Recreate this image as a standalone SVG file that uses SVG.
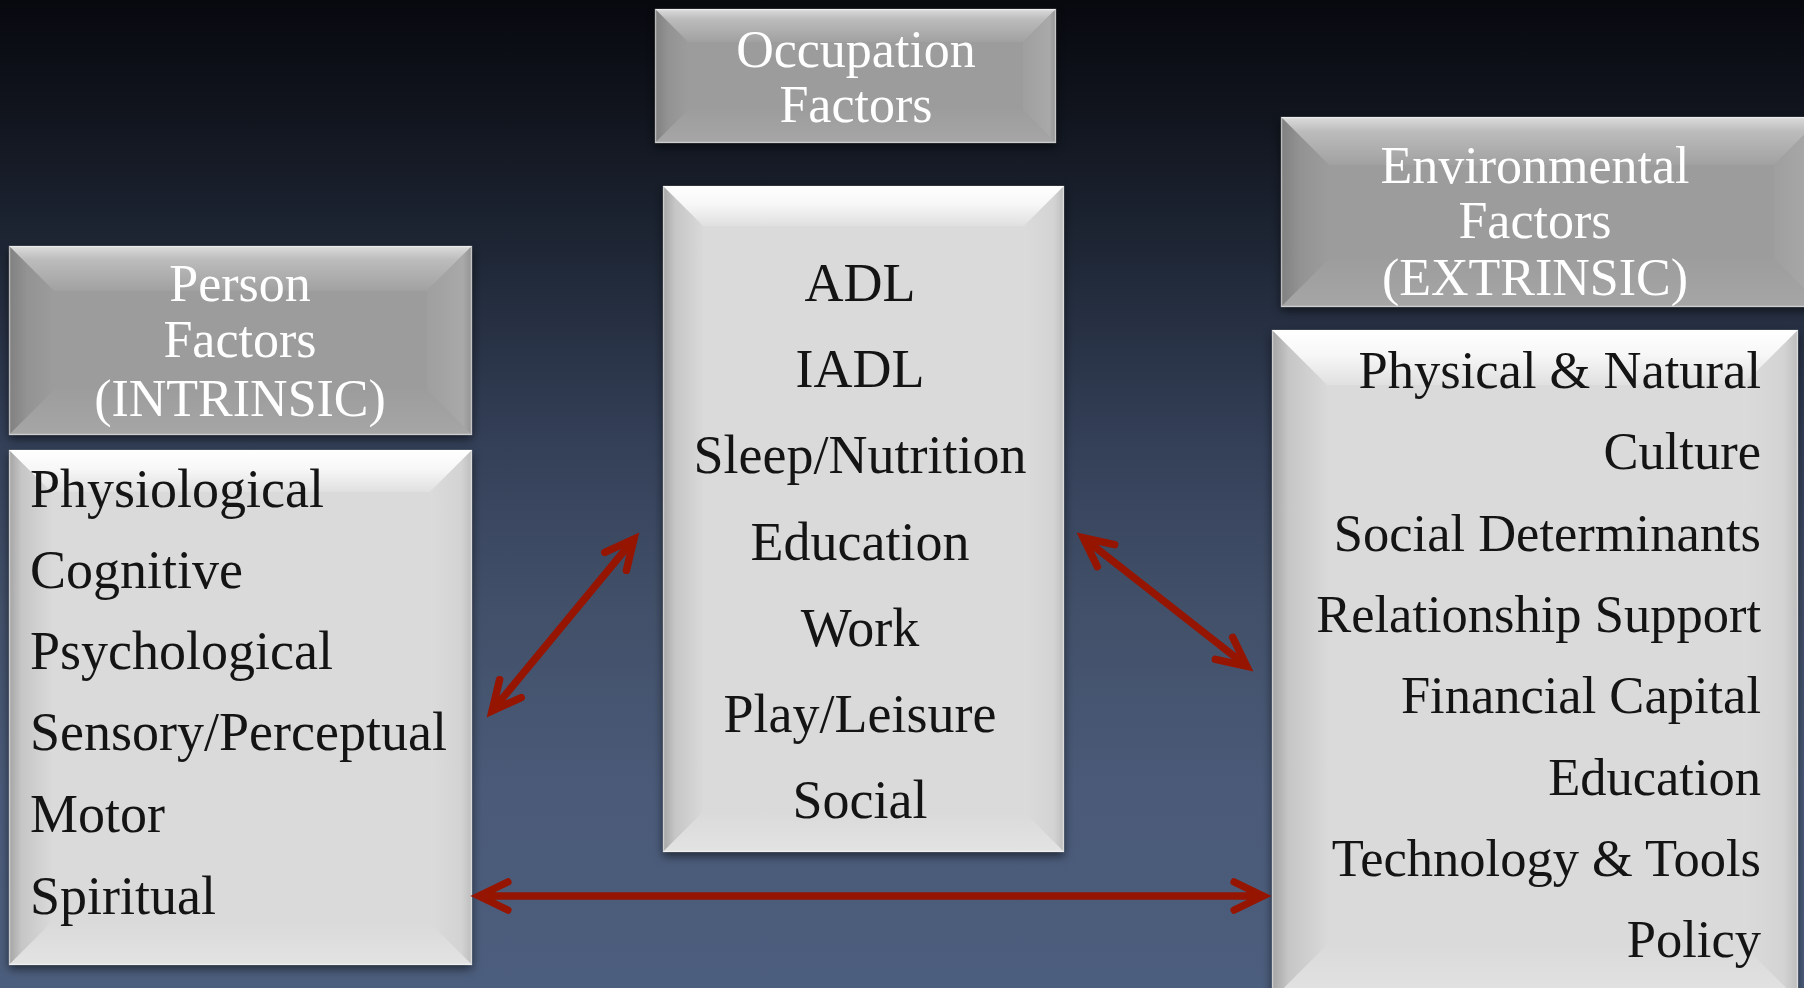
<svg xmlns="http://www.w3.org/2000/svg" width="1804" height="988" viewBox="0 0 1804 988">
  <defs>
    <!-- page backdrop: near-black at the top to slate blue at the bottom -->
    <linearGradient id="bg" x1="0" y1="0" x2="0" y2="1">
      <stop offset="0" stop-color="#08090f"/>
      <stop offset="0.12" stop-color="#11151e"/>
      <stop offset="0.28" stop-color="#212a3a"/>
      <stop offset="0.45" stop-color="#344058"/>
      <stop offset="0.62" stop-color="#425069"/>
      <stop offset="0.8" stop-color="#4a5a78"/>
      <stop offset="1" stop-color="#4c5e7d"/>
    </linearGradient>

    <!-- bevel shading, light (content) boxes -->
    <linearGradient id="ltTop" x1="0" y1="0" x2="0" y2="1">
      <stop offset="0" stop-color="#ffffff"/>
      <stop offset="0.45" stop-color="#f7f7f7"/>
      <stop offset="1" stop-color="#e0e0e0"/>
    </linearGradient>
    <linearGradient id="ltLeft" x1="0" y1="0" x2="1" y2="0">
      <stop offset="0" stop-color="#a4a4a4"/>
      <stop offset="0.3" stop-color="#c6c6c6"/>
      <stop offset="1" stop-color="#d9d9d9"/>
    </linearGradient>
    <linearGradient id="ltRight" x1="0" y1="0" x2="1" y2="0">
      <stop offset="0" stop-color="#dbdbdb"/>
      <stop offset="0.75" stop-color="#d3d3d3"/>
      <stop offset="1" stop-color="#bdbdbd"/>
    </linearGradient>
    <linearGradient id="ltBottom" x1="0" y1="0" x2="0" y2="1">
      <stop offset="0" stop-color="#dadada"/>
      <stop offset="1" stop-color="#e3e3e3"/>
    </linearGradient>

    <!-- bevel shading, grey (header) boxes -->
    <linearGradient id="grTop" x1="0" y1="0" x2="0" y2="1">
      <stop offset="0" stop-color="#dcdcdc"/>
      <stop offset="0.3" stop-color="#bcbcbc"/>
      <stop offset="1" stop-color="#a1a1a1"/>
    </linearGradient>
    <linearGradient id="grLeft" x1="0" y1="0" x2="1" y2="0">
      <stop offset="0" stop-color="#808080"/>
      <stop offset="0.4" stop-color="#939393"/>
      <stop offset="1" stop-color="#9c9c9c"/>
    </linearGradient>
    <linearGradient id="grRight" x1="0" y1="0" x2="1" y2="0">
      <stop offset="0" stop-color="#9f9f9f"/>
      <stop offset="0.8" stop-color="#a9a9a9"/>
      <stop offset="1" stop-color="#939393"/>
    </linearGradient>
    <linearGradient id="grBottom" x1="0" y1="0" x2="0" y2="1">
      <stop offset="0" stop-color="#9d9d9d"/>
      <stop offset="1" stop-color="#a6a6a6"/>
    </linearGradient>

    <filter id="soft" x="-10%" y="-10%" width="120%" height="120%">
      <feGaussianBlur stdDeviation="5"/>
    </filter>

    <style>
      .shadow { fill: #000; opacity: 0.55; filter: url(#soft); }
      .lt-face { fill: #dadada; }
      .lt-top { fill: url(#ltTop); }
      .lt-left { fill: url(#ltLeft); }
      .lt-right { fill: url(#ltRight); }
      .lt-bottom { fill: url(#ltBottom); }
      .gr-face { fill: #9c9c9c; }
      .gr-top { fill: url(#grTop); }
      .gr-left { fill: url(#grLeft); }
      .gr-right { fill: url(#grRight); }
      .gr-bottom { fill: url(#grBottom); }
      .rim { fill: none; stroke: #ffffff; stroke-opacity: 0.45; stroke-width: 1.5; }
      .head { font-family: "Liberation Serif", "Times New Roman", serif; font-size: 52px; fill: #ffffff; text-anchor: middle; }
      .item { font-family: "Liberation Serif", "Times New Roman", serif; font-size: 54px; fill: #141414; }
      .mid { text-anchor: middle; }
      .end { text-anchor: end; font-size: 52.5px; }
      .link { fill: none; stroke: #961500; stroke-width: 7.5; stroke-linecap: round; stroke-linejoin: miter; }
    </style>
  </defs>

  <rect x="0" y="0" width="1804" height="988" fill="url(#bg)"/>

  <!-- Occupation header -->
  <g id="occupation-header">
    <rect class="shadow" x="655" y="13" width="401" height="134"/>
    <rect class="gr-face" x="655" y="9" width="401" height="134"/>
    <polygon class="gr-top" points="655,9 1056,9 1023,42 688,42"/>
    <polygon class="gr-left" points="655,9 688,42 688,110 655,143"/>
    <polygon class="gr-right" points="1056,9 1056,143 1023,110 1023,42"/>
    <polygon class="gr-bottom" points="655,143 688,110 1023,110 1056,143"/>
    <rect class="rim" x="655.5" y="9.5" width="400" height="133"/>
    <text class="head" x="856" y="67">Occupation</text>
    <text class="head" x="856" y="122">Factors</text>
  </g>

  <!-- Occupation items -->
  <g id="occupation-items">
    <rect class="shadow" x="663" y="190" width="401" height="666"/>
    <rect class="lt-face" x="663" y="186" width="401" height="666"/>
    <polygon class="lt-top" points="663,186 1064,186 1024,226 703,226"/>
    <polygon class="lt-left" points="663,186 703,226 703,812 663,852"/>
    <polygon class="lt-right" points="1064,186 1064,852 1024,812 1024,226"/>
    <polygon class="lt-bottom" points="663,852 703,812 1024,812 1064,852"/>
    <rect class="rim" x="663.5" y="186.5" width="400" height="665"/>
    <text class="item mid" x="860" y="301">ADL</text>
    <text class="item mid" x="860" y="387">IADL</text>
    <text class="item mid" x="860" y="473">Sleep/Nutrition</text>
    <text class="item mid" x="860" y="560">Education</text>
    <text class="item mid" x="860" y="646">Work</text>
    <text class="item mid" x="860" y="732">Play/Leisure</text>
    <text class="item mid" x="860" y="818">Social</text>
  </g>

  <!-- Person header -->
  <g id="person-header">
    <rect class="shadow" x="9" y="250" width="463" height="189"/>
    <rect class="gr-face" x="9" y="246" width="463" height="189"/>
    <polygon class="gr-top" points="9,246 472,246 427,291 54,291"/>
    <polygon class="gr-left" points="9,246 54,291 54,390 9,435"/>
    <polygon class="gr-right" points="472,246 472,435 427,390 427,291"/>
    <polygon class="gr-bottom" points="9,435 54,390 427,390 472,435"/>
    <rect class="rim" x="9.5" y="246.5" width="462" height="188"/>
    <text class="head" x="240" y="301">Person</text>
    <text class="head" x="240" y="357">Factors</text>
    <text class="head" x="240" y="416">(INTRINSIC)</text>
  </g>

  <!-- Person items -->
  <g id="person-items">
    <rect class="shadow" x="9" y="454" width="463" height="515"/>
    <rect class="lt-face" x="9" y="450" width="463" height="515"/>
    <polygon class="lt-top" points="9,450 472,450 430,492 51,492"/>
    <polygon class="lt-left" points="9,450 51,492 51,923 9,965"/>
    <polygon class="lt-right" points="472,450 472,965 430,923 430,492"/>
    <polygon class="lt-bottom" points="9,965 51,923 430,923 472,965"/>
    <rect class="rim" x="9.5" y="450.5" width="462" height="514"/>
    <text class="item" x="30" y="507">Physiological</text>
    <text class="item" x="30" y="588">Cognitive</text>
    <text class="item" x="30" y="669">Psychological</text>
    <text class="item" x="30" y="750">Sensory/Perceptual</text>
    <text class="item" x="30" y="832">Motor</text>
    <text class="item" x="30" y="914">Spiritual</text>
  </g>

  <!-- Environmental header -->
  <g id="environment-header">
    <rect class="shadow" x="1281" y="121" width="541" height="190"/>
    <rect class="gr-face" x="1281" y="117" width="541" height="190"/>
    <polygon class="gr-top" points="1281,117 1822,117 1774,165 1329,165"/>
    <polygon class="gr-left" points="1281,117 1329,165 1329,259 1281,307"/>
    <polygon class="gr-right" points="1822,117 1822,307 1774,259 1774,165"/>
    <polygon class="gr-bottom" points="1281,307 1329,259 1774,259 1822,307"/>
    <rect class="rim" x="1281.5" y="117.5" width="540" height="189"/>
    <text class="head" x="1535" y="183">Environmental</text>
    <text class="head" x="1535" y="238">Factors</text>
    <text class="head" x="1535" y="295">(EXTRINSIC)</text>
  </g>

  <!-- Environmental items -->
  <g id="environment-items">
    <rect class="shadow" x="1272" y="334" width="526" height="670"/>
    <rect class="lt-face" x="1272" y="330" width="526" height="670"/>
    <polygon class="lt-top" points="1272,330 1798,330 1743,385 1327,385"/>
    <polygon class="lt-left" points="1272,330 1327,385 1327,945 1272,1000"/>
    <polygon class="lt-right" points="1798,330 1798,1000 1743,945 1743,385"/>
    <polygon class="lt-bottom" points="1272,1000 1327,945 1743,945 1798,1000"/>
    <rect class="rim" x="1272.5" y="330.5" width="525" height="669"/>
    <text class="item end" x="1761" y="388">Physical &amp; Natural</text>
    <text class="item end" x="1761" y="469">Culture</text>
    <text class="item end" x="1761" y="551">Social Determinants</text>
    <text class="item end" x="1761" y="632">Relationship Support</text>
    <text class="item end" x="1761" y="713">Financial Capital</text>
    <text class="item end" x="1761" y="795">Education</text>
    <text class="item end" x="1761" y="876">Technology &amp; Tools</text>
    <text class="item end" x="1761" y="957">Policy</text>
  </g>

  <!-- two-headed connectors -->
  <g id="connectors">
    <path class="link" d="M521.2,697.6 L492.1,710.8 L499.6,679.7 M492.1,710.8 L633.9,539.2 M604.8,552.4 L633.9,539.2 L626.4,570.3"/>
    <path class="link" d="M1097.3,566.7 L1083.3,537.9 L1114.6,544.6 M1083.3,537.9 L1246.7,666.1 M1232.7,637.3 L1246.7,666.1 L1215.4,659.4"/>
    <path class="link" d="M507.8,882 L479,896 L507.8,910 M479,896 L1263,896 M1234.2,882 L1263,896 L1234.2,910"/>
  </g>
</svg>
